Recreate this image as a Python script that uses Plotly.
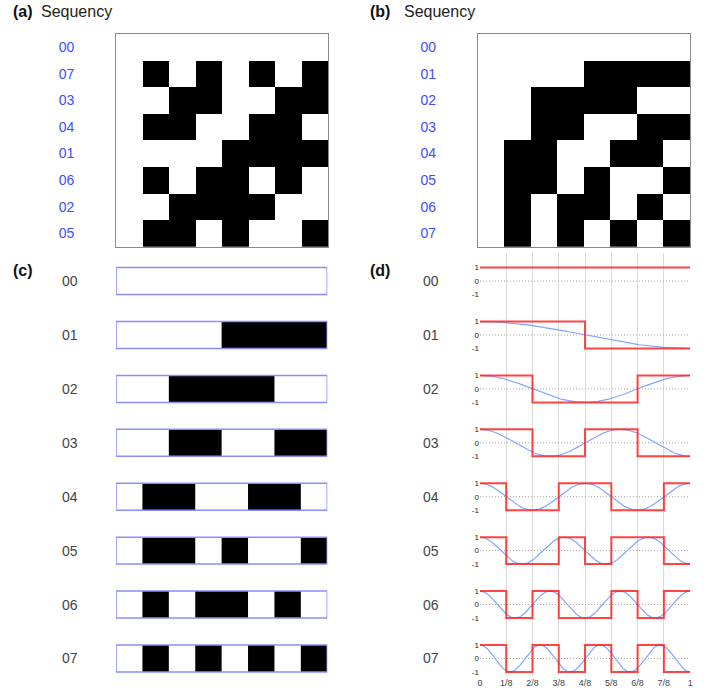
import numpy as np
import plotly.graph_objects as go

W, H = 710, 700
FONT = "Liberation Sans, Arial, Helvetica, sans-serif"

# Walsh functions in sequency order (+1 = white, -1 = black)
seq_labels = ["00", "01", "02", "03", "04", "05", "06", "07"]
walsh_seq = [
    [1, 1, 1, 1, 1, 1, 1, 1],
    [1, 1, 1, 1, -1, -1, -1, -1],
    [1, 1, -1, -1, -1, -1, 1, 1],
    [1, 1, -1, -1, 1, 1, -1, -1],
    [1, -1, -1, 1, 1, -1, -1, 1],
    [1, -1, -1, 1, -1, 1, 1, -1],
    [1, -1, 1, -1, -1, 1, -1, 1],
    [1, -1, 1, -1, 1, -1, 1, -1],
]
# Hadamard (natural) ordering, labelled by sequency
natural_labels = ["00", "07", "03", "04", "01", "06", "02", "05"]
# cosine frequency (half-cycles over [0, 1]) drawn behind each Walsh function
cos_freq = [0, 1, 2, 3, 4, 5, 6, 7]
x_tick_text = ["0", "1/8", "2/8", "3/8", "4/8", "5/8", "6/8", "7/8", "1"]

walsh_nat = [walsh_seq[seq_labels.index(l)] for l in natural_labels]
n = len(seq_labels)
ROW_STEP = 4  # vertical spacing between rows in panels (c) and (d)


def px(x):
    return x / W


def py(y):
    return 1 - y / H


fig = go.Figure()

# ---- (a) and (b): matrices as heatmaps
bw = [[0, "black"], [1, "white"]]
for mat, ax in ((walsh_nat, ""), (walsh_seq, "2")):
    fig.add_trace(go.Heatmap(
        z=mat, x=list(range(8)), y=list(range(n)), colorscale=bw, zmin=-1, zmax=1,
        showscale=False, hoverinfo="skip", xaxis="x" + ax, yaxis="y" + ax))

# ---- (c): bar strips, consecutive black cells merged into single runs
row_offsets = [-ROW_STEP * i for i in range(n)]
bx, bbase, by = [], [], []
for i, row in enumerate(walsh_seq):
    j = 0
    while j < len(row):
        if row[j] < 0:
            k = j
            while k < len(row) and row[k] < 0:
                k += 1
            bx.append((k - j) / 8)
            bbase.append(j / 8)
            by.append(row_offsets[i])
            j = k
        else:
            j += 1
fig.add_trace(go.Bar(
    x=bx, base=bbase, y=by, orientation="h", width=2,
    marker=dict(color="black", line=dict(width=0)),
    xaxis="x3", yaxis="y3", hoverinfo="skip", showlegend=False))
fig.add_trace(go.Bar(
    x=[1] * n, base=[0] * n, y=row_offsets, orientation="h", width=2,
    marker=dict(color="rgba(0,0,0,0)", line=dict(width=1.5, color="#8c8cff")),
    xaxis="x3", yaxis="y3", hoverinfo="skip", showlegend=False))

# ---- (d): square waves with matching cosines
xs = np.linspace(0, 1, 400)
steps_x = [j / 8 for j in range(9)]
for i, row in enumerate(walsh_seq):
    off = row_offsets[i]
    fig.add_trace(go.Scatter(
        x=[0, 1], y=[off, off], mode="lines",
        line=dict(color="#a0a0a0", width=1, dash="1px,2px"),
        xaxis="x4", yaxis="y4", hoverinfo="skip", showlegend=False))
    if cos_freq[i] > 0:
        fig.add_trace(go.Scatter(
            x=xs, y=np.cos(cos_freq[i] * np.pi * xs) + off, mode="lines",
            line=dict(color="#7fa6ff", width=1.2),
            xaxis="x4", yaxis="y4", hoverinfo="skip", showlegend=False))
    fig.add_trace(go.Scatter(
        x=steps_x, y=[v + off for v in row] + [row[-1] + off], mode="lines",
        line=dict(color="rgba(255,35,35,0.85)", width=2, shape="hv"),
        xaxis="x4", yaxis="y4", hoverinfo="skip", showlegend=False))

y_top_cd, y_bot_cd = 253, 677
y_range_cd = [-(n - 1) * ROW_STEP - 17.6 / 13.5, 28.5 / 13.5]

hidden = dict(showgrid=False, zeroline=False, showticklabels=False, ticks="")
box = dict(showline=True, mirror=True, linecolor="#8a8a8a", linewidth=1)
lbl_font = dict(family=FONT, size=14, color="#3d4dff")

d_ticks, d_text = [], []
for off in row_offsets:
    d_ticks += [off + 1, off, off - 1]
    d_text += ["1", "0", "-1"]

fig.update_layout(
    width=W, height=H, margin=dict(l=0, r=0, t=0, b=0),
    paper_bgcolor="white", plot_bgcolor="white", showlegend=False,
    barmode="overlay", font=dict(family=FONT),
    xaxis=dict(domain=[px(114), px(328)], range=[-0.5, 7.5], anchor="y", **hidden, **box),
    yaxis=dict(domain=[py(247), py(34)], range=[7.5, -0.5], anchor="x",
               tickvals=list(range(n)), ticktext=natural_labels, showgrid=False,
               zeroline=False, ticks="", ticklabelstandoff=38, tickfont=lbl_font, **box),
    xaxis2=dict(domain=[px(479), px(693)], range=[-0.5, 7.5], anchor="y2", **hidden, **box),
    yaxis2=dict(domain=[py(247), py(34)], range=[7.5, -0.5], anchor="x2",
                tickvals=list(range(n)), ticktext=seq_labels, showgrid=False,
                zeroline=False, ticks="", ticklabelstandoff=38, tickfont=lbl_font, **box),
    xaxis3=dict(domain=[px(114), px(327)], range=[0, 1], anchor="y3", **hidden),
    yaxis3=dict(domain=[py(y_bot_cd), py(y_top_cd)], range=y_range_cd, anchor="x3", **hidden),
    xaxis4=dict(domain=[px(481), px(693)], range=[0, 1], anchor="y4", tickvals=steps_x,
                ticktext=x_tick_text, showgrid=True, gridcolor="#dcdcdc", gridwidth=1,
                zeroline=False, ticks="", tickfont=dict(size=9, color="#444")),
    yaxis4=dict(domain=[py(y_bot_cd), py(y_top_cd)], range=y_range_cd, anchor="x4",
                tickvals=d_ticks, ticktext=d_text, showgrid=False, zeroline=False,
                ticks="", tickfont=dict(size=8, color="#222")),
)

annots = []
for tag, xl, xs_, yc in (("(a)", 8, 36, 12), ("(b)", 368, 402, 12)):
    annots.append(dict(text="<b>%s</b>" % tag, x=px(xl), y=py(yc), xref="paper", yref="paper",
                       xanchor="left", yanchor="middle", showarrow=False,
                       font=dict(size=16, color="#111")))
    annots.append(dict(text="Sequency", x=px(xs_), y=py(yc), xref="paper", yref="paper",
                       xanchor="left", yanchor="middle", showarrow=False,
                       font=dict(size=16, color="#222")))
for tag, xl in (("(c)", 8), ("(d)", 368)):
    annots.append(dict(text="<b>%s</b>" % tag, x=px(xl), y=py(271), xref="paper", yref="paper",
                       xanchor="left", yanchor="middle", showarrow=False,
                       font=dict(size=16, color="#111")))
for i, lab in enumerate(seq_labels):
    for xc, yr in ((68, "y3"), (432, "y4")):
        annots.append(dict(text=lab, x=px(xc), y=row_offsets[i], xref="paper", yref=yr,
                           xanchor="center", yanchor="middle", showarrow=False,
                           font=dict(size=14, color="#444")))
fig.update_layout(annotations=annots)

fig.write_html("out.html")
